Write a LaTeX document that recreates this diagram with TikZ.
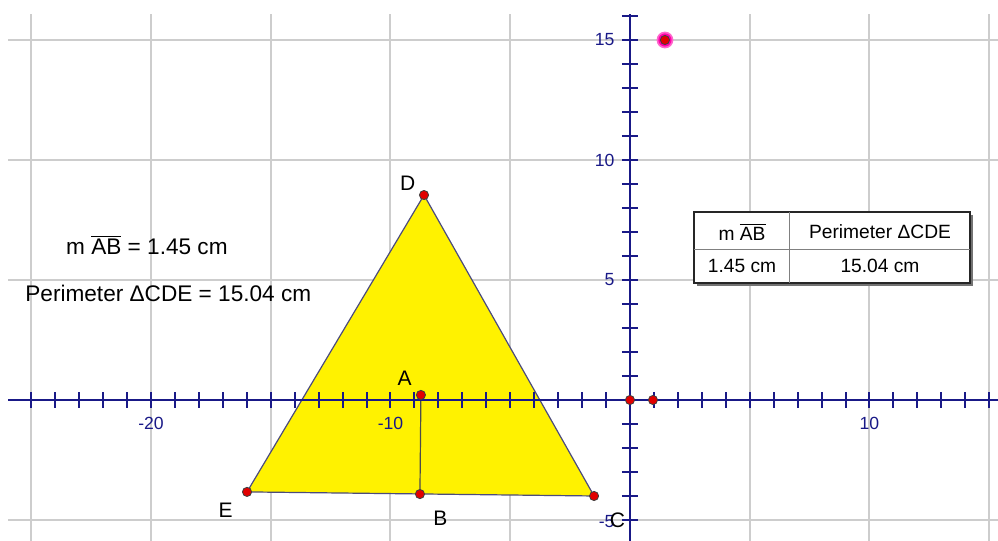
\documentclass[tikz,border=0pt]{standalone}
\usepackage{fontspec}
\setmainfont{Liberation Sans}
\usepackage{xcolor}
\usetikzlibrary{positioning}

\definecolor{axisblue}{RGB}{25,25,135}
\definecolor{gridgray}{RGB}{205,205,205}
\definecolor{edgeblue}{RGB}{75,75,125}
\definecolor{dotred}{RGB}{225,0,0}
\definecolor{halo}{RGB}{255,0,170}

\begin{document}
\begin{tikzpicture}[x=11.975pt, y=12pt,
    dot/.style={circle, draw=black!75, fill=dotred, inner sep=0pt, minimum size=4.6pt, line width=0.4pt},
    ptlabel/.style={font=\fontsize{10.5}{12}\selectfont, inner sep=0pt},
    ticklabel/.style={font=\fontsize{8.8}{10}\selectfont, text=axisblue, inner sep=0pt},
    cell/.style={font=\fontsize{9.6}{11}\selectfont, inner sep=0pt},
    measure/.style={font=\fontsize{11.3}{13}\selectfont, inner sep=0pt},
    axis/.style={axisblue, line width=1pt}]

        \useasboundingbox (-26.305,-5.875) rectangle (15.366,16.667);

        \foreach \gx in {-25,-20,...,15}
            \draw[gridgray, line width=1pt] (\gx,-5.875) -- (\gx,16.083);
        \foreach \gy in {-5,0,...,15}
            \draw[gridgray, line width=1pt] (-25.97,\gy) -- (15.366,\gy);

        \coordinate (A) at (-8.73,0.21);
        \coordinate (B) at (-8.77,-3.92);
        \coordinate (C) at (-1.50,-4.00);
        \coordinate (D) at (-8.60,8.54);
        \coordinate (E) at (-15.99,-3.83);
        \coordinate (O) at (0,0);
        \coordinate (U) at (0.96,0);
        \coordinate (P) at (1.46,15);

        \filldraw[fill=yellow, draw=edgeblue, line width=0.6pt] (C) -- (D) -- (E) -- cycle;
        \draw[black!70, line width=0.6pt] (A) -- (B);

        \draw[axis] (-25.97,0) -- (15.366,0);
        \draw[axis] (0,-5.875) -- (0,16.083);
        \foreach \tx in {-25,...,15}
            \draw[axis] (\tx,0) ++(0,-4pt) -- ++(0,8pt);
        \foreach \ty in {-5,...,16}
            \draw[axis] (0,\ty) ++(-4pt,0) -- ++(8pt,0);

        \foreach \v in {-20,-10,10}
            \node[ticklabel] (x\v) at (\v,-0.96) {\v};
        \foreach \v in {15,10,5}
            \node[ticklabel, anchor=east] (y\v) at (-0.63,\v) {\v};
        \node[ticklabel, anchor=east] (y-5) at (-0.63,-5.08) {-5};

        \fill[halo!60] (P) circle (4.2pt);
        \fill[halo] (P) circle (3.3pt);
        \node[dot] (Pdot) at (P) {};
        \node[dot] (Adot) at (A) {};
        \node[dot] (Bdot) at (B) {};
        \node[dot] (Cdot) at (C) {};
        \node[dot] (Ddot) at (D) {};
        \node[dot] (Edot) at (E) {};
        \node[dot] (Odot) at (O) {};
        \node[dot] (Udot) at (U) {};

        \node[ptlabel, above left=2.2pt and 4.2pt of D] (lD) {D};
        \node[ptlabel, above left=4.7pt and 4.5pt of A] (lA) {A};
        \node[ptlabel, below right=8.2pt and 6.5pt of B] (lB) {B};
        \node[ptlabel, below left=5.2pt and 7pt of E] (lE) {E};
        \node[ptlabel, below right=8.2pt and 7.7pt of C] (lC) {C};

        \node[measure] (mAB) at (-20.17,6.46) {m $\overline{\hbox{AB}}$ = 1.45 cm};
        \node[measure, anchor=west] (perim) at (-25.26,4.46) {Perimeter ΔCDE = 15.04 cm};

        \fill[black!55] (2.79,4.755) rectangle (14.316,7.713);
        \filldraw[fill=white, draw=black!85, line width=0.7pt] (2.672,4.875) rectangle (14.196,7.833);
        \draw[black!50, line width=0.5pt] (6.68,4.875) -- (6.68,7.833);
        \draw[black!50, line width=0.5pt] (2.672,6.25) -- (14.196,6.25);
        \node[cell] (hAB) at (4.68,7.0) {m $\overline{\hbox{AB}}$};
        \node[cell] (hPer) at (10.44,7.0) {Perimeter ΔCDE};
        \node[cell] (vAB) at (4.68,5.58) {1.45 cm};
        \node[cell] (vPer) at (10.44,5.58) {15.04 cm};

    \end{tikzpicture}
\end{document}
